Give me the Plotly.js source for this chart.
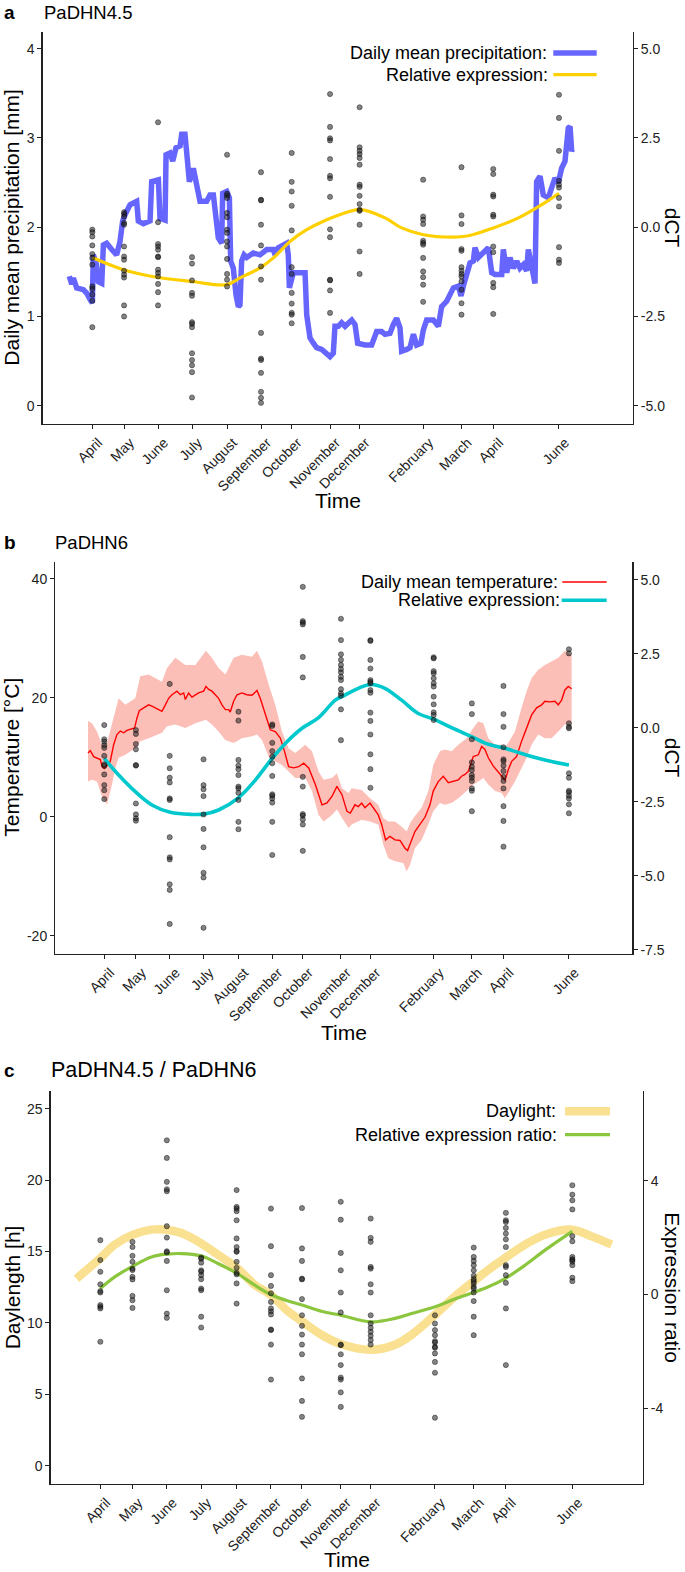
<!DOCTYPE html>
<html><head><meta charset="utf-8">
<script src="https://cdn.plot.ly/plotly-3.0.1.min.js"></script>
<style>html,body{margin:0;padding:0;background:#fff}#chart{width:685px;height:1572px}</style>
</head><body><div id="chart"></div><script>
// ---------------- DATA ----------------
// x values: days since first sampling (15 April)
const sampleDay = [0, 29, 60, 91, 123, 154, 182, 217, 244, 302, 337, 366, 426];
const sampleMonth = ['April','May','June','July','August','September','October','November','December','February','March','April','June'];

// Panel a: 30-day mean precipitation [mm]
const precipDay = [-21.0,-18.8,-17.3,-14.3,-8.2,-5.1,-2.1,0,0.9,3.4,5.5,8.6,10.1,13.1,17.7,22.2,25.3,27.7,29.9,34.4,40.5,42.0,46.6,52.7,54.2,60.3,61.8,66.4,67.3,70.9,73.4,76.4,80.1,81.6,84.6,86.1,88.6,92.2,95.3,98.3,104.4,107.4,110.5,112.0,115.0,118.1,119.0,122.7,125.1,126.3,128.7,131.2,133.3,134.8,136.3,138.5,140.9,147.0,153.1,159.2,165.3,166.8,169.8,177.4,178.9,179.9,183.5,189.6,194.2,195.7,198.7,201.8,204.8,209.4,212.4,217.0,220.0,221.5,224.6,227.6,230.7,233.7,236.8,239.8,242.2,248.9,255.0,259.6,264.1,267.2,271.7,274.8,277.8,280.9,282.4,287.0,290.0,293.1,296.1,300.0,302.2,305.2,311.3,315.9,318.9,323.5,326.5,329.6,334.1,336.6,338.7,341.7,344.8,347.8,349.3,352.4,355.4,358.5,361.5,364.6,367.6,373.7,375.2,378.3,381.3,384.3,387.4,390.4,393.5,396.5,398.0,401.1,404.1,405.6,408.7,411.7,416.3,419.3,422.3,425.4,428.4,431.5,434.5,436.1,437.6,438.2];
const precipMM = [1.45,1.36,1.43,1.32,1.30,1.26,1.19,1.15,1.69,1.60,1.39,1.37,1.80,1.82,1.75,1.69,1.84,2.07,2.14,2.25,2.29,2.07,2.04,2.07,2.51,2.53,2.10,2.08,2.81,2.83,2.74,2.89,2.91,3.04,3.04,2.81,2.51,2.66,2.44,2.29,2.29,2.36,2.36,2.14,1.88,1.82,2.38,2.40,2.33,1.62,1.54,1.24,1.11,1.13,1.62,1.69,1.66,1.71,1.69,1.75,1.75,1.69,1.77,1.82,1.69,1.32,1.49,1.49,1.49,1.02,0.76,0.70,0.65,0.63,0.59,0.55,0.59,0.89,0.89,0.93,0.89,0.93,0.96,0.91,0.70,0.68,0.68,0.83,0.83,0.80,0.81,0.91,0.98,0.87,0.61,0.63,0.65,0.80,0.68,0.70,0.85,0.96,0.96,0.89,1.11,1.17,1.24,1.32,1.34,1.23,1.34,1.49,1.60,1.62,1.77,1.66,1.69,1.73,1.77,1.49,1.47,1.47,1.75,1.49,1.66,1.54,1.62,1.54,1.58,1.51,1.75,1.56,1.37,2.51,2.57,2.36,2.33,2.44,2.55,2.50,2.66,2.74,3.11,3.13,2.85,2.87];
// Panel a: PaDHN4.5 relative expression (smoothed), dCT
const exprADay = [0, 28.3, 60.3, 90.7, 122.7, 134.8, 153.1, 165.3, 180.5, 195.7, 214, 221.5, 244.4, 267.2, 282.4, 302.2, 329.6, 343.3, 366.1, 389, 410.3, 426];
const exprADct = [-0.85, -1.19, -1.41, -1.52, -1.61, -1.42, -1.14, -0.86, -0.40, -0.07, 0.21, 0.30, 0.49, 0.26, -0.02, -0.21, -0.28, -0.24, -0.02, 0.26, 0.63, 0.95];
// Panel a: individual dCT values per sampling date
const pointsA = [
  [-0.07,-0.14,-0.26,-0.51,-0.75,-0.86,-1.05,-1.66,-1.73,-1.89,-2.06,-2.80],
  [0.42,0.37,0.30,0.12,0.07,-0.54,-0.82,-0.91,-1.22,-1.33,-1.41,-2.19,-2.50],
  [2.94,0.14,-0.47,-0.54,-0.63,-0.82,-0.84,-1.19,-1.28,-1.38,-1.59,-1.82,-2.19],
  [-0.84,-1.02,-1.49,-1.84,-1.92,-2.66,-2.71,-2.80,-3.53,-3.72,-3.87,-4.06,-4.77],
  [2.03,0.94,0.89,0.82,0.40,0.28,-0.07,-0.16,-0.40,-0.54,-0.89,-1.31,-1.47,-1.66],
  [1.54,0.77,0.75,0.07,-0.51,-1.10,-1.47,-2.96,-3.68,-3.72,-4.08,-4.61,-4.78,-4.92],
  [2.08,1.27,1.00,0.60,-0.09,-1.12,-1.31,-1.84,-2.14,-2.40,-2.45,-2.69],
  [3.73,2.81,2.49,2.43,1.91,1.44,1.37,0.85,-0.06,-0.28,-1.47,-1.49,-1.77,-2.40],
  [3.36,2.24,2.14,2.05,1.94,1.75,1.19,1.13,0.88,0.65,0.49,0.46,0.07,-0.68,-1.31],
  [1.33,0.30,0.21,0.09,-0.38,-0.44,-0.49,-0.86,-1.24,-1.40,-1.61,-2.09],
  [1.68,0.33,0.09,-0.61,-0.66,-1.12,-1.22,-1.31,-1.38,-1.52,-1.75,-2.13,-2.45],
  [1.63,1.49,0.91,0.86,0.35,0.30,-0.54,-0.70,-1.56,-1.68,-2.43],
  [3.71,3.06,2.14,1.30,1.19,1.11,0.82,0.58,-0.56,-0.91,-1.00]
];

// Panel b: daily mean temperature [°C] with range ribbon
const tempDay = [-14.9,-12.8,-9.7,-6.7,-3.6,-2.1,0,2.5,5.5,8.6,11.6,14.7,17.8,20.8,25.4,27.8,30.0,32.1,36.1,40.7,43.7,46.8,49.8,52.9,56.0,59.0,62.1,66.6,69.7,72.8,74.3,77.3,80.4,83.5,86.5,91.1,93.2,95.7,98.7,101.8,104.8,107.9,111.0,114.0,115.5,118.6,121.7,126.2,130.8,135.4,140.0,143.0,147.6,152.2,156.8,161.4,165.4,169.0,173.6,178.2,182.8,187.4,193.5,199.6,204.2,208.7,213.3,217.9,222.5,225.6,229.8,232.9,236.0,239.0,243.6,246.6,251.2,254.3,257.9,261.9,266.5,271.1,275.7,278.1,281.8,284.8,289.4,294.0,298.6,301.6,306.2,310.8,315.4,320.0,324.6,327.6,330.7,333.7,338.3,342.9,346.0,349.0,352.1,356.7,361.2,365.8,367.3,370.4,373.5,378.0,382.6,387.2,391.8,396.4,401.0,404.0,408.6,413.2,416.2,419.3,422.3,425.4,428.5];
const tempC = [10.7,11.1,10.1,9.9,9.6,8.5,8.1,8.6,9.3,12.1,13.8,14.4,14.1,14.5,14.8,14.9,16.6,17.8,18.3,18.8,18.6,18.3,18.0,17.7,18.8,19.9,20.5,21.1,20.5,20.8,19.7,20.8,20.1,20.5,20.8,21.1,21.9,21.4,21.1,20.5,19.9,18.8,18.0,18.0,17.6,19.4,20.5,20.8,20.5,20.4,21.2,19.9,17.1,14.6,14.3,13.2,10.9,8.4,8.2,8.4,9.0,8.2,5.4,2.0,2.3,3.4,5.1,3.7,0.9,0.6,2.0,1.7,2.3,1.5,2.3,1.5,0.3,-1.3,-3.9,-3.3,-3.9,-4.0,-5.3,-5.7,-3.9,-2.5,-1.3,-0.1,2.0,4.3,5.9,6.8,5.7,5.9,6.2,6.8,7.1,7.6,10.1,10.4,11.8,11.3,9.9,8.5,7.6,6.5,6.05,7.9,9.3,10.1,12.7,14.9,17.1,18.3,18.8,19.4,19.3,19.4,18.8,19.6,21.3,21.9,21.5];
const bandDay = [-14.9,-11.3,-6.7,-2.1,2.5,7.1,10.1,13.2,19.3,28.4,33.0,40.7,52.9,57.5,65.1,74.3,83.5,93.2,98.7,104.8,111.0,118.6,126.2,135.4,140.0,144.6,150.7,156.8,162.9,169.0,175.1,184.3,190.4,196.5,201.1,208.7,213.3,217.9,224.0,226.8,236.0,243.6,251.2,255.8,260.4,266.5,274.1,277.2,280.3,284.8,290.9,297.1,301.6,307.7,312.3,318.4,324.6,332.2,338.3,342.9,347.5,352.1,358.2,364.3,367.3,371.9,376.5,382.6,387.2,391.8,397.9,404.0,410.1,416.2,422.3,428.5];
const bandHigh = [16.1,15.7,14.3,12.1,12.4,15.5,17.7,19.9,18.8,19.9,23.6,23.9,22.7,25.0,26.7,25.5,25.5,27.9,26.7,25.0,23.9,26.7,27.2,26.9,27.9,26.1,22.2,18.8,14.3,11.5,10.7,12.1,11.0,7.6,6.2,6.5,7.3,4.8,4.0,4.8,4.5,3.1,2.0,-0.2,-0.8,-0.8,-1.9,-2.5,-1.1,0.1,1.5,4.3,8.7,11.0,11.3,11.0,12.1,13.2,14.9,16.0,15.7,13.2,12.1,12.1,11.5,12.9,14.3,18.3,21.1,23.3,24.7,25.5,26.1,26.7,27.9,27.2];
const bandLow = [5.9,6.2,5.9,3.4,2.0,5.4,8.2,9.9,10.4,11.5,12.7,13.2,14.1,15.2,15.5,14.9,15.7,16.3,15.5,14.3,12.9,12.4,13.2,13.5,13.8,12.9,10.1,9.3,8.7,7.6,6.5,6.5,4.3,0.3,-0.8,0.3,1.2,-0.2,-1.9,-1.3,-0.5,-0.8,-1.3,-4.7,-7.0,-7.5,-7.8,-9.2,-8.1,-5.3,-3.9,-1.3,0.9,2.3,2.0,2.3,3.1,4.3,5.4,5.9,6.5,5.4,4.3,4.0,3.1,4.5,5.9,8.2,9.9,12.1,13.8,13.2,13.2,14.3,15.5,15.7];
// Panel b: PaDHN6 relative expression (smoothed), dCT
const exprBDay = [0, 13.2, 28.4, 43.7, 60.5, 80.4, 91.1, 104.8, 123.2, 138.5, 153.8, 166.0, 181.3, 196.5, 211.8, 220.7, 232.9, 244.5, 257.3, 272.6, 287.9, 302.5, 318.4, 336.7, 352.1, 365.8, 382.6, 404.0, 426];
const exprBDct = [-1.04, -1.60, -2.16, -2.61, -2.86, -2.93, -2.92, -2.78, -2.36, -1.77, -1.04, -0.53, -0.02, 0.34, 0.93, 1.10, 1.33, 1.46, 1.33, 0.93, 0.48, 0.28, 0.0, -0.30, -0.56, -0.68, -0.87, -1.09, -1.26];
const pointsB = [
  [0.09,-0.39,-0.47,-0.59,-0.68,-0.95,-1.24,-1.29,-1.58,-1.94,-2.11,-2.41],
  [-0.08,-0.21,-0.55,-0.73,-1.26,-1.28,-2.56,-2.93,-3.06,-3.14],
  [1.48,-0.95,-1.37,-1.69,-1.85,-2.39,-2.44,-3.70,-4.38,-4.45,-5.29,-5.48,-6.63],
  [-1.07,-1.94,-2.08,-2.31,-2.93,-3.42,-4.04,-4.90,-5.06,-6.76],
  [0.54,0.24,-1.09,-1.28,-1.40,-1.60,-1.99,-2.05,-2.20,-2.44,-3.18,-3.43],
  [0.11,0.06,-0.51,-0.79,-0.98,-1.20,-1.63,-2.25,-2.30,-2.39,-2.53,-3.18,-4.30],
  [4.76,3.60,3.55,3.49,2.39,1.70,-1.66,-1.99,-2.92,-2.97,-3.10,-3.27,-4.16],
  [3.68,2.96,2.48,2.29,2.12,1.98,1.87,1.72,1.61,1.30,1.16,1.08,0.62,-0.42],
  [2.96,2.93,2.29,2.00,1.61,1.55,1.50,1.27,1.18,0.51,0.23,-0.23,-0.90,-1.40,-2.03],
  [2.38,2.34,1.91,1.84,1.67,1.50,1.39,1.05,0.79,0.52,0.43,0.26],
  [0.82,0.46,-0.39,-1.17,-1.32,-1.43,-1.60,-1.69,-1.80,-2.05,-2.13,-2.82],
  [1.41,0.46,0.03,-0.66,-1.07,-1.13,-1.28,-1.46,-1.66,-1.80,-2.05,-2.65,-3.15,-4.02],
  [2.65,2.51,0.15,0.03,-0.02,-1.54,-1.69,-2.13,-2.18,-2.30,-2.39,-2.59,-2.89]
];

// Panel c: daylength [h] and expression ratio PaDHN4.5 / PaDHN6
const dayLenDay = [-21.6, 0, 13.0, 29.5, 46.1, 60.5, 73.1, 90.6, 106.2, 123.4, 139.3, 153.8, 169.4, 182.0, 199.5, 217.0, 244.3, 266.0, 281.0, 302.1, 320.0, 336.7, 350.2, 365.3, 383.3, 401.3, 426.0, 443.5, 461.5];
const dayLenH = [13.10, 14.54, 15.48, 16.18, 16.53, 16.53, 16.29, 15.59, 14.77, 13.84, 12.67, 11.97, 10.81, 10.11, 9.17, 8.52, 8.12, 8.47, 9.17, 10.57, 11.85, 12.90, 13.72, 14.54, 15.48, 16.18, 16.53, 16.06, 15.48];
const ratioDay = [0, 13.0, 29.5, 46.1, 60.5, 73.1, 90.6, 106.2, 123.4, 139.3, 153.8, 169.4, 182.0, 199.5, 217.0, 244.3, 266.0, 281.0, 302.1, 320.0, 336.7, 350.2, 365.3, 383.3, 401.3, 426.0];
const ratioVal = [0.21, 0.62, 1.00, 1.32, 1.42, 1.44, 1.36, 1.09, 0.74, 0.33, 0.00, -0.23, -0.37, -0.59, -0.73, -0.96, -0.84, -0.67, -0.43, -0.16, 0.07, 0.27, 0.56, 1.03, 1.56, 2.22];
const pointsC = [
  [1.91,1.21,0.80,0.36,0.12,0.07,-0.37,-0.43,-0.49,-1.66],
  [1.85,1.67,1.36,1.15,0.91,0.86,0.62,0.53,-0.05,-0.20,-0.47],
  [5.42,4.80,3.96,3.70,3.63,2.40,2.00,1.52,1.48,1.18,0.15,-0.67,-0.82],
  [1.30,1.26,1.12,0.85,0.80,0.68,0.54,0.21,0.15,-0.78,-1.16],
  [3.67,3.08,3.02,2.93,2.61,1.97,1.67,1.53,1.50,1.15,0.94,0.76,0.71,0.39,-0.32],
  [3.02,1.70,0.68,0.30,0.04,-0.26,-0.49,-0.59,-0.70,-1.23,-1.25,-1.76,-2.99],
  [3.04,1.62,1.18,0.56,0.53,-0.16,-0.73,-1.10,-1.41,-1.76,-2.10,-2.95,-3.74,-4.30],
  [3.26,2.63,1.46,0.85,0.07,-0.63,-1.76,-1.78,-2.10,-2.48,-2.92,-2.99,-3.44,-3.95],
  [2.67,1.99,1.85,0.97,0.91,0.36,0.07,-0.73,-1.02,-1.17,-1.31,-1.45,-1.60,-1.76],
  [-0.73,-1.02,-1.25,-1.43,-1.64,-1.69,-1.84,-1.87,-2.07,-2.37,-2.75,-4.33],
  [1.65,1.32,1.18,1.03,0.85,0.66,0.54,0.47,0.39,0.27,0.21,0.07,-0.23,-0.78,-1.43],
  [2.87,2.61,2.55,2.34,2.14,1.94,1.67,1.03,0.97,0.68,0.41,-0.49,-2.48],
  [3.84,3.51,3.31,2.99,2.05,1.87,1.32,1.24,1.21,1.15,1.03,0.59,0.47]
];

// axis tick labels
const tickA_L = [0,1,2,3,4], tickA_R = [-5,-2.5,0,2.5,5];
const tickB_L = [-20,0,20,40], tickB_R = [-7.5,-5,-2.5,0,2.5,5];
const tickC_L = [0,5,10,15,20,25], tickC_R = [-4,0,4];

// ---------------- LAYOUT HELPERS ----------------
const W = 685, H = 1572;
const fx = p => p / W, fy = p => 1 - p / H;
const FONT = 'Liberation Sans, Arial, Helvetica, sans-serif';
const TXT = '#000', TICK = '#222', LINE = '#222';
const TICKSIZE = 14, AXTITLE = 21, LEGSIZE = 18;

const geom = {
  a: {l: 42.7, r: 632.7, t: 31.7, b: 423.7, days: [-45.3, 493.3]},
  b: {l: 55.3, r: 632.3, t: 561.7, b: 953.7, days: [-44.9, 484.1]},
  c: {l: 50.7, r: 642.7, t: 1091, b: 1483.7, days: [-44.8, 489.5]}
};

const fmt1 = v => (v < 0 ? '-' : '') + Math.abs(v).toFixed(1);
const fmt0 = v => (v < 0 ? '-' : '') + Math.abs(v).toFixed(0);

function xAx(g, anchor) {
  return {domain: [fx(g.l), fx(g.r)], range: g.days, anchor: anchor,
    tickmode: 'array', tickvals: sampleDay, ticktext: sampleMonth, tickangle: -45,
    ticklabelshift: 6,
    ticks: 'outside', ticklen: 4, tickwidth: 1, tickcolor: LINE,
    showline: true, linecolor: LINE, linewidth: 1.3,
    showgrid: false, zeroline: false, automargin: false, fixedrange: true,
    tickfont: {family: FONT, size: TICKSIZE, color: TICK}};
}
function yAx(g, range, vals, fmt, anchor, side, overlaying) {
  const o = {domain: [fy(g.b), fy(g.t)], range: range, anchor: anchor, side: side,
    tickmode: 'array', tickvals: vals, ticktext: vals.map(fmt),
    ticks: 'outside', ticklen: 4, tickwidth: 1, tickcolor: LINE,
    showline: true, linecolor: LINE, linewidth: 1.3,
    showgrid: false, zeroline: false, automargin: false, fixedrange: true,
    tickfont: {family: FONT, size: TICKSIZE, color: TICK}};
  if (overlaying) o.overlaying = overlaying;
  return o;
}
function flat(groups) {
  const x = [], y = [];
  groups.forEach((g, i) => g.forEach(v => { x.push(sampleDay[i]); y.push(v); }));
  return {x, y};
}
const ptStyle = {size: 5.2, color: 'rgba(30,30,30,0.55)', line: {width: 0.6, color: 'rgba(0,0,0,0.65)'}};

const pA = flat(pointsA), pB = flat(pointsB), pC = flat(pointsC);

const traces = [
  // panel a
  {x: precipDay, y: precipMM, xaxis: 'x', yaxis: 'y', mode: 'lines', line: {color: '#6666FF', width: 5.5}, hoverinfo: 'skip'},
  {x: exprADay, y: exprADct, xaxis: 'x', yaxis: 'y2', mode: 'lines', line: {color: '#FFD000', width: 3.2, shape: 'spline'}, hoverinfo: 'skip'},
  {x: pA.x, y: pA.y, xaxis: 'x', yaxis: 'y2', mode: 'markers', marker: ptStyle, hoverinfo: 'skip'},
  // panel b
  {x: bandDay.concat(bandDay.slice().reverse()), y: bandHigh.concat(bandLow.slice().reverse()),
   xaxis: 'x2', yaxis: 'y3', mode: 'lines', fill: 'toself', fillcolor: 'rgba(250,128,114,0.5)', line: {width: 0}, hoverinfo: 'skip'},
  {x: tempDay, y: tempC, xaxis: 'x2', yaxis: 'y3', mode: 'lines', line: {color: '#FF0000', width: 1.4}, hoverinfo: 'skip'},
  {x: exprBDay, y: exprBDct, xaxis: 'x2', yaxis: 'y4', mode: 'lines', line: {color: '#00C8CC', width: 3.6, shape: 'spline'}, hoverinfo: 'skip'},
  {x: pB.x, y: pB.y, xaxis: 'x2', yaxis: 'y4', mode: 'markers', marker: ptStyle, hoverinfo: 'skip'},
  // panel c
  {x: dayLenDay, y: dayLenH, xaxis: 'x3', yaxis: 'y5', mode: 'lines', line: {color: '#F9E191', width: 8.5, shape: 'spline'}, hoverinfo: 'skip'},
  {x: ratioDay, y: ratioVal, xaxis: 'x3', yaxis: 'y6', mode: 'lines', line: {color: '#8CC63F', width: 3.2, shape: 'spline'}, hoverinfo: 'skip'},
  {x: pC.x, y: pC.y, xaxis: 'x3', yaxis: 'y6', mode: 'markers', marker: ptStyle, hoverinfo: 'skip'}
];

function ann(text, xp, yp, opts) {
  return Object.assign({text: text, x: fx(xp), y: fy(yp), xref: 'paper', yref: 'paper', showarrow: false,
    xanchor: 'center', yanchor: 'middle', font: {family: FONT, size: AXTITLE, color: TXT}}, opts || {});
}
function keyLine(x0, x1, y, color, width) {
  return {type: 'line', xref: 'paper', yref: 'paper', x0: fx(x0), x1: fx(x1), y0: fy(y), y1: fy(y), line: {color: color, width: width}};
}

const annotations = [
  // panel titles
  ann('<b>a</b>', 2, 12, {xanchor: 'left', font: {family: FONT, size: 19, color: TXT}}),
  ann('PaDHN4.5', 41.5, 12, {xanchor: 'left', font: {family: FONT, size: 18.5, color: TXT}}),
  ann('<b>b</b>', 2, 542, {xanchor: 'left', font: {family: FONT, size: 19, color: TXT}}),
  ann('PaDHN6', 53, 542, {xanchor: 'left', font: {family: FONT, size: 18.5, color: TXT}}),
  ann('<b>c</b>', 2, 1070, {xanchor: 'left', font: {family: FONT, size: 19, color: TXT}}),
  ann('PaDHN4.5 / PaDHN6', 48.5, 1070, {xanchor: 'left', font: {family: FONT, size: 21.5, color: TXT}}),
  // axis titles
  ann('Time', 337.7, 500), ann('Time', 343.8, 1032),
  ann('Time', 346.7, 1572, {yanchor: 'bottom', borderpad: 0}),
  ann('Daily mean precipitation [mm]', 12, 227.7, {textangle: -90}),
  ann('dCT', 672, 227.7, {textangle: 90}),
  ann('Temperature [°C]', 12, 757.7, {textangle: -90}),
  ann('dCT', 672, 757.7, {textangle: 90}),
  ann('Daylength [h]', 12, 1287.3, {textangle: -90}),
  ann('Expression ratio', 673, 1287.3, {textangle: 90}),
  // legends
  ann('Daily mean precipitation:', 549, 53, {xanchor: 'right', font: {family: FONT, size: LEGSIZE, color: TXT}}),
  ann('Relative expression:', 550, 74.7, {xanchor: 'right', font: {family: FONT, size: LEGSIZE, color: TXT}}),
  ann('Daily mean temperature:', 560, 582, {xanchor: 'right', font: {family: FONT, size: LEGSIZE, color: TXT}}),
  ann('Relative expression:', 561.5, 600.3, {xanchor: 'right', font: {family: FONT, size: LEGSIZE, color: TXT}}),
  ann('Daylight:', 557.5, 1111.3, {xanchor: 'right', font: {family: FONT, size: LEGSIZE, color: TXT}}),
  ann('Relative expression ratio:', 558.5, 1134.7, {xanchor: 'right', font: {family: FONT, size: LEGSIZE, color: TXT}})
];

const shapes = [
  keyLine(553.3, 596.7, 53, '#6666FF', 5.5),
  keyLine(553.3, 596.7, 74.7, '#FFD000', 3.2),
  keyLine(562.3, 606.7, 582, '#FF0000', 1.4),
  keyLine(561.7, 606.7, 600.3, '#00C8CC', 3.6),
  keyLine(565, 610, 1111.3, '#F9E191', 8.5),
  keyLine(565, 610, 1134.7, '#8CC63F', 3.2)
];

const layout = {
  width: W, height: H, margin: {l: 0, r: 0, t: 0, b: 0, pad: 0},
  paper_bgcolor: '#fff', plot_bgcolor: 'rgba(0,0,0,0)', showlegend: false,
  font: {family: FONT, color: TXT},
  xaxis: xAx(geom.a, 'y'),
  yaxis: yAx(geom.a, [-0.2017, 4.19], tickA_L, fmt0, 'x', 'left'),
  yaxis2: yAx(geom.a, [-5.504, 5.476], tickA_R, fmt1, 'x', 'right', 'y'),
  xaxis2: xAx(geom.b, 'y3'),
  yaxis3: yAx(geom.b, [-23.03, 42.86], tickB_L, fmt0, 'x2', 'left'),
  yaxis4: yAx(geom.b, [-7.635, 5.608], tickB_R, fmt1, 'x2', 'right', 'y3'),
  xaxis3: xAx(geom.c, 'y5'),
  yaxis5: yAx(geom.c, [-1.26, 26.24], tickC_L, fmt0, 'x3', 'left'),
  yaxis6: yAx(geom.c, [-6.65, 7.153], tickC_R, fmt0, 'x3', 'right', 'y5'),
  annotations: annotations,
  shapes: shapes
};

Plotly.newPlot('chart', traces, layout, {staticPlot: true, displayModeBar: false});
</script></body></html>
